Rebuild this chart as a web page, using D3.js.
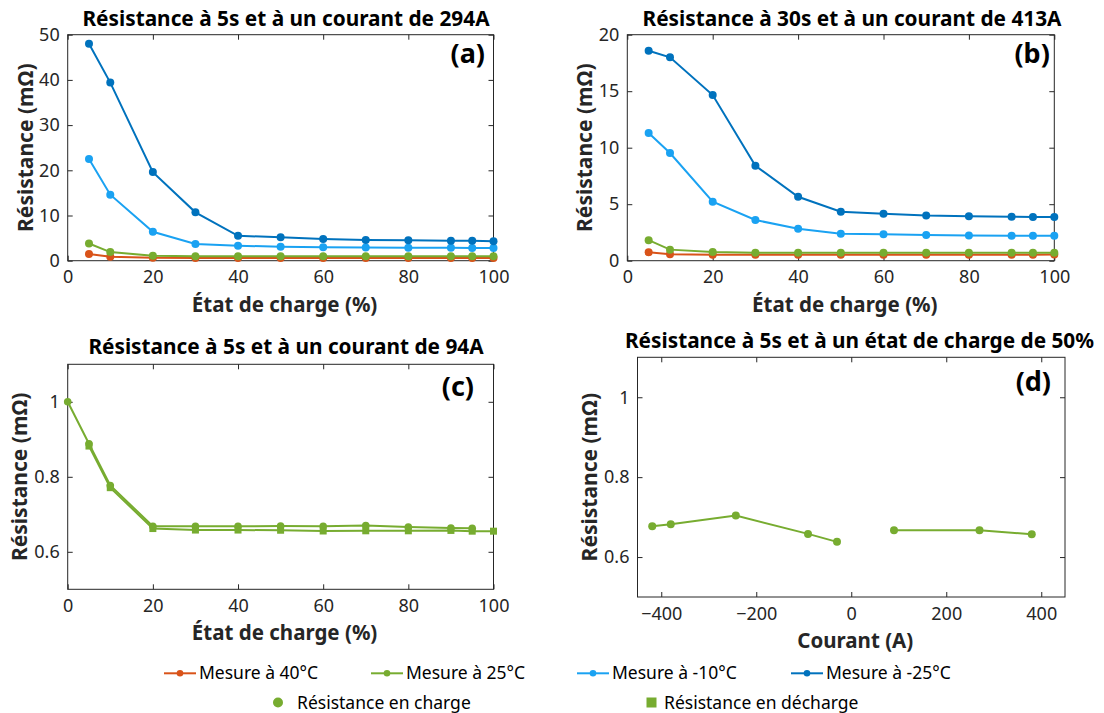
<!DOCTYPE html>
<html><head><meta charset="utf-8">
<script src="https://cdn.jsdelivr.net/npm/d3@7"></script>
<style>body{margin:0;background:#fff;} svg text{font-family:"Noto Sans",sans-serif;}</style>
</head><body><svg id="chart" width="1104" height="713"></svg>
<script>
// ---------- data ----------
const socAB = [5,10,20,30,40,50,60,70,80,90,95,100];
// (a) 5 s, 294 A
const a40  = [1.5,0.9,0.65,0.6,0.6,0.6,0.6,0.6,0.6,0.6,0.6,0.6];
const a25  = [3.8,1.9,1.1,1.0,1.0,1.0,1.0,1.0,1.0,1.0,1.0,1.0];
const aM10 = [22.5,14.6,6.4,3.7,3.3,3.1,3.0,2.9,2.85,2.85,2.8,2.8];
const aM25 = [48.0,39.4,19.6,10.7,5.5,5.2,4.8,4.6,4.5,4.4,4.4,4.3];
// (b) 30 s, 413 A
const b40  = [0.74,0.57,0.53,0.53,0.53,0.53,0.53,0.53,0.53,0.53,0.53,0.55];
const b25  = [1.82,0.98,0.76,0.71,0.71,0.71,0.71,0.71,0.71,0.71,0.71,0.70];
const bM10 = [11.3,9.53,5.22,3.6,2.83,2.39,2.33,2.27,2.24,2.21,2.21,2.21];
const bM25 = [18.58,18.0,14.66,8.4,5.66,4.34,4.16,4.0,3.93,3.9,3.87,3.87];
// (c) 5 s, 94 A
const cChargeSoc = [0,5,10,20,30,40,50,60,70,80,90,95];
const cChargeRes = [1.0,0.888,0.777,0.668,0.668,0.668,0.669,0.668,0.670,0.666,0.6635,0.663];
const cDischSoc  = [5,10,20,30,40,50,60,70,80,90,95,100];
const cDischRes  = [0.882,0.771,0.662,0.658,0.658,0.6575,0.6555,0.656,0.656,0.657,0.655,0.655];
// (d) 5 s, SOC 50 %
const dNegCurrent = [-419,-380,-243,-91,-30];
const dNegRes     = [0.677,0.682,0.704,0.658,0.638];
const dPosCurrent = [90,270,380];
const dPosRes     = [0.667,0.667,0.657];
// ticks
const socTicks = [0,20,40,60,80,100];
const aYTicks = [0,10,20,30,40,50];
const bYTicks = [0,5,10,15,20];
const cdYTicks = [0.6,0.8,1];
const dXTicks = [-400,-200,0,200,400];
// labels
const titles = ["Résistance à 5s et à un courant de 294A","Résistance à 30s et à un courant de 413A",
  "Résistance à 5s et à un courant de 94A","Résistance à 5s et à un état de charge de 50%"];
const legendLabels = ["Mesure à 40°C","Mesure à 25°C","Mesure à -10°C","Mesure à -25°C"];
const legendLabels2 = ["Résistance en charge","Résistance en décharge"];

const C40="#D95319", C25="#77AC30", CM10="#1AA2F2", CM25="#0072BD";
const INK="#262626";

const svg = d3.select("#chart");

function panel(cfg){
  const {box, xd, yd, xt, yt, title, tcx, tby, tag, tagdx, tagdy, ylx, xlab, series} = cfg;
  const x = d3.scaleLinear().domain(xd).range([box.l, box.r]);
  const y = d3.scaleLinear().domain(yd).range([box.b, box.t]);
  const g = svg.append("g");
  const fmt = d3.format("~g");
  const styleAxis = sel => { sel.select(".domain").remove();
    sel.selectAll("line").attr("stroke", INK);
    sel.selectAll("text").attr("fill", INK).style("font-size","18px").style("font-family","Noto Sans"); };
  g.append("g").attr("transform",`translate(0,${box.b})`)
    .call(d3.axisBottom(x).tickValues(xt).tickFormat(fmt).tickSizeInner(-5).tickSizeOuter(0).tickPadding(10)).call(styleAxis);
  g.append("g").attr("transform",`translate(0,${box.t})`)
    .call(d3.axisTop(x).tickValues(xt).tickFormat("").tickSizeInner(-5).tickSizeOuter(0)).call(styleAxis);
  g.append("g").attr("transform",`translate(${box.l},0)`)
    .call(d3.axisLeft(y).tickValues(yt).tickFormat(fmt).tickSizeInner(-5).tickSizeOuter(0).tickPadding(8)).call(styleAxis);
  g.append("g").attr("transform",`translate(${box.r},0)`)
    .call(d3.axisRight(y).tickValues(yt).tickFormat("").tickSizeInner(-5).tickSizeOuter(0)).call(styleAxis);
  g.append("rect").attr("x",box.l).attr("y",box.t).attr("width",box.r-box.l).attr("height",box.b-box.t)
    .attr("fill","none").attr("stroke",INK).attr("stroke-width",1);

  const line = d3.line().x(d=>x(d[0])).y(d=>y(d[1]));
  series.forEach(s=>{
    const pts = s.xs.map((v,i)=>[v,s.ys[i]]);
    g.append("path").attr("d",line(pts)).attr("fill","none").attr("stroke",s.color).attr("stroke-width",2);
    if(s.marker==="square"){
      g.selectAll(null).data(pts).enter().append("rect")
        .attr("x",d=>x(d[0])-3.5).attr("y",d=>y(d[1])-3.5).attr("width",7).attr("height",7).attr("fill",s.color);
    } else {
      g.selectAll(null).data(pts).enter().append("circle")
        .attr("cx",d=>x(d[0])).attr("cy",d=>y(d[1])).attr("r",s.r||4).attr("fill",s.color);
    }
  });
  g.append("text").attr("x",tcx).attr("y",tby).attr("text-anchor","middle")
    .style("font-size","20.8px").style("font-weight","bold").attr("fill","#000").text(title);
  g.append("text").attr("x",box.r-tagdx).attr("y",box.t+tagdy).attr("text-anchor","end")
    .style("font-size","27px").style("font-weight","bold").attr("fill","#000").text(tag);
  g.append("text").attr("x",(box.l+box.r)/2+4).attr("y",box.b+51).attr("text-anchor","middle")
    .style("font-size","20.5px").style("font-weight","bold").attr("fill",INK).text(xlab);
  g.append("text").attr("transform",`translate(${box.l-ylx},${(box.t+box.b)/2}) rotate(-90)`)
    .attr("text-anchor","middle").style("font-size","21px").style("font-weight","bold").attr("fill",INK)
    .text("Résistance (mΩ)");
}

const tempSeries = (d40,d25,dm10,dm25)=>[
  {xs:socAB, ys:d40, color:C40},{xs:socAB, ys:d25, color:C25},
  {xs:socAB, ys:dm10, color:CM10},{xs:socAB, ys:dm25, color:CM25}];

panel({box:{l:67.7,r:493.5,t:34.7,b:260.7}, xd:[0,100], yd:[0,50], xt:socTicks, yt:aYTicks,
  title:titles[0], tcx:286, tby:25.7, tag:"(a)", tagdx:8.5, tagdy:28.6, ylx:35,
  xlab:"État de charge (%)", series:tempSeries(a40,a25,aM10,aM25)});
panel({box:{l:627.3,r:1054.3,t:34.7,b:260.7}, xd:[0,100], yd:[0,20], xt:socTicks, yt:bYTicks,
  title:titles[1], tcx:852, tby:25.7, tag:"(b)", tagdx:4.5, tagdy:28.6, ylx:35,
  xlab:"État de charge (%)", series:tempSeries(b40,b25,bM10,bM25)});
panel({box:{l:67.7,r:493.5,t:364.3,b:589.3}, xd:[0,100], yd:[0.5,1.1], xt:socTicks, yt:cdYTicks,
  title:titles[2], tcx:286, tby:354.3, tag:"(c)", tagdx:19.5, tagdy:32, ylx:41,
  xlab:"État de charge (%)", series:[
    {xs:cDischSoc, ys:cDischRes, color:C25, marker:"square"},
    {xs:cChargeSoc, ys:cChargeRes, color:C25, r:3.8}]});
panel({box:{l:637.5,r:1065,t:357.3,b:597}, xd:[-450,450], yd:[0.5,1.1], xt:dXTicks, yt:cdYTicks,
  title:titles[3], tcx:859.5, tby:347.5, tag:"(d)", tagdx:14, tagdy:34, ylx:41,
  xlab:"Courant (A)", series:[
    {xs:dNegCurrent, ys:dNegRes, color:C25},
    {xs:dPosCurrent, ys:dPosRes, color:C25}]});

// ---------- legend ----------
const leg = svg.append("g");
const legX = [164, 371, 577, 791];
const legColors = [C40, C25, CM10, CM25];
legendLabels.forEach((lab,i)=>{
  const x0 = legX[i];
  leg.append("line").attr("x1",x0).attr("x2",x0+32).attr("y1",673.3).attr("y2",673.3)
    .attr("stroke",legColors[i]).attr("stroke-width",2);
  leg.append("circle").attr("cx",x0+16).attr("cy",673.3).attr("r",3.3).attr("fill",legColors[i]);
  leg.append("text").attr("x",x0+35).attr("y",678.8).style("font-size","17.5px").attr("fill","#000").text(lab);
});
leg.append("circle").attr("cx",278).attr("cy",702.5).attr("r",5).attr("fill",C25);
leg.append("text").attr("x",297).attr("y",708.5).style("font-size","17.5px").attr("fill","#000").text(legendLabels2[0]);
leg.append("rect").attr("x",646.5).attr("y",697.5).attr("width",10).attr("height",10).attr("fill",C25);
leg.append("text").attr("x",664).attr("y",708.5).style("font-size","17.5px").attr("fill","#000").text(legendLabels2[1]);
</script></body></html>
